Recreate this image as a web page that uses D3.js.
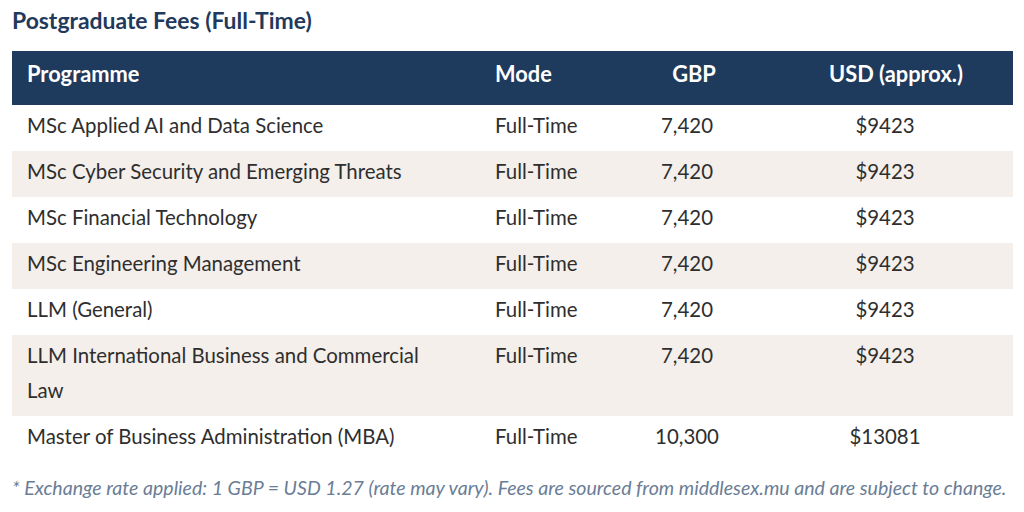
<!DOCTYPE html>
<html>
<head>
<meta charset="utf-8">
<script src="https://cdn.jsdelivr.net/npm/d3@7"></script>
<style>
  html, body { margin: 0; padding: 0; background: #fff; }
  svg { display: block; }
</style>
</head>
<body>
<div id="chart"></div>
<script>
// table content
const title = 'Postgraduate Fees (Full-Time)'
const columns = ['Programme', 'Mode', 'GBP', 'USD (approx.)']
const programmes = [
  'MSc Applied AI and Data Science',
  'MSc Cyber Security and Emerging Threats',
  'MSc Financial Technology',
  'MSc Engineering Management',
  'LLM (General)',
  'LLM International Business and Commercial Law',
  'Master of Business Administration (MBA)'
]
const modes = ['Full-Time', 'Full-Time', 'Full-Time', 'Full-Time', 'Full-Time', 'Full-Time', 'Full-Time']
const gbp = [7420, 7420, 7420, 7420, 7420, 7420, 10300]
const usd = [9423, 9423, 9423, 9423, 9423, 9423, 13081]
const footnote = '* Exchange rate applied: 1 GBP = USD 1.27 (rate may vary). Fees are sourced from middlesex.mu and are subject to change.'

const width = 1024
const height = 512
const font = 'Lato, "Open Sans", sans-serif'

const svg = d3.select('#chart')
  .append('svg')
  .attr('width', width)
  .attr('height', height)
  .style('font-family', font)

// find a font size that makes a string a given width
function fitSize (str, target, weight, style) {
  const t = svg.append('text')
    .attr('font-size', 20)
    .attr('font-weight', weight || 'normal')
    .attr('font-style', style || 'normal')
    .text(str)
  const w = t.node().getComputedTextLength()
  t.remove()
  return 20 * target / w
}

const bodySize = fitSize('MSc Cyber Security and Emerging Threats', 375)
const headSize = fitSize('USD (approx.)', 134, 'bold')
const titleSize = fitSize(title, 300, 'bold')
const noteSize = fitSize(footnote, 995, 'normal', 'italic')

const table = { left: 12, right: 1013, top: 51, headH: 54 }
const rowH = 46
const lineH = 35

// column x positions (left aligned for text, centred for numbers)
const colX = d3.scaleOrdinal()
  .domain(columns)
  .range([27, 495, 687, 885])
const headX = d3.scaleOrdinal()
  .domain(columns)
  .range([27, 495, 694, 896])

const fmt = d3.format(',')

// wrap programme names onto lines
function wrap (str, maxW) {
  const t = svg.append('text').attr('font-size', bodySize)
  const words = str.split(' ')
  const lines = []
  let cur = []
  words.forEach(w => {
    const test = cur.concat([w]).join(' ')
    t.text(test)
    if (t.node().getComputedTextLength() > maxW && cur.length) {
      lines.push(cur.join(' '))
      cur = [w]
    } else {
      cur.push(w)
    }
  })
  lines.push(cur.join(' '))
  t.remove()
  return lines
}

const rows = programmes.map((p, i) => ({
  lines: wrap(p, 410),
  mode: modes[i],
  gbp: gbp[i],
  usd: usd[i],
  i: i
}))

let y0 = table.top + table.headH
rows.forEach(r => {
  r.y = y0
  r.h = rowH + (r.lines.length - 1) * lineH
  y0 += r.h
})

// title
svg.append('text')
  .attr('x', 12)
  .attr('y', 29)
  .attr('font-size', titleSize)
  .attr('font-weight', 'bold')
  .attr('fill', '#1f3a5c')
  .text(title)

// header band
svg.append('rect')
  .attr('x', table.left)
  .attr('y', table.top)
  .attr('width', table.right - table.left)
  .attr('height', table.headH)
  .attr('fill', '#1e3a5c')

svg.selectAll('.head')
  .data(columns)
  .enter()
  .append('text')
  .attr('class', 'head')
  .attr('x', d => headX(d))
  .attr('y', 82)
  .attr('text-anchor', (d, i) => i < 2 ? 'start' : 'middle')
  .attr('font-size', headSize)
  .attr('font-weight', 'bold')
  .attr('fill', '#fff')
  .text(d => d)

// body rows
const g = svg.selectAll('.row')
  .data(rows)
  .enter()
  .append('g')
  .attr('class', 'row')
  .attr('transform', d => 'translate(0,' + d.y + ')')

g.append('rect')
  .attr('x', table.left)
  .attr('width', table.right - table.left)
  .attr('height', d => d.h)
  .attr('fill', d => d.i % 2 ? '#f4efeb' : '#fff')

const textColor = '#2e2e2e'

g.selectAll('.prog')
  .data(d => d.lines)
  .enter()
  .append('text')
  .attr('class', 'prog')
  .attr('x', colX('Programme'))
  .attr('y', (d, i) => 28 + i * lineH)
  .attr('font-size', bodySize)
  .attr('fill', textColor)
  .text(d => d)

g.append('text')
  .attr('x', colX('Mode'))
  .attr('y', 28)
  .attr('font-size', bodySize)
  .attr('fill', textColor)
  .text(d => d.mode)

g.append('text')
  .attr('x', colX('GBP'))
  .attr('y', 28)
  .attr('text-anchor', 'middle')
  .attr('font-size', bodySize)
  .attr('fill', textColor)
  .text(d => fmt(d.gbp))

g.append('text')
  .attr('x', colX('USD (approx.)'))
  .attr('y', 28)
  .attr('text-anchor', 'middle')
  .attr('font-size', bodySize)
  .attr('fill', textColor)
  .text(d => '$' + d.usd)

// footnote
svg.append('text')
  .attr('x', 12)
  .attr('y', 495)
  .attr('font-size', noteSize)
  .attr('font-style', 'italic')
  .attr('fill', '#6a7d96')
  .text(footnote)
</script>
</body>
</html>
